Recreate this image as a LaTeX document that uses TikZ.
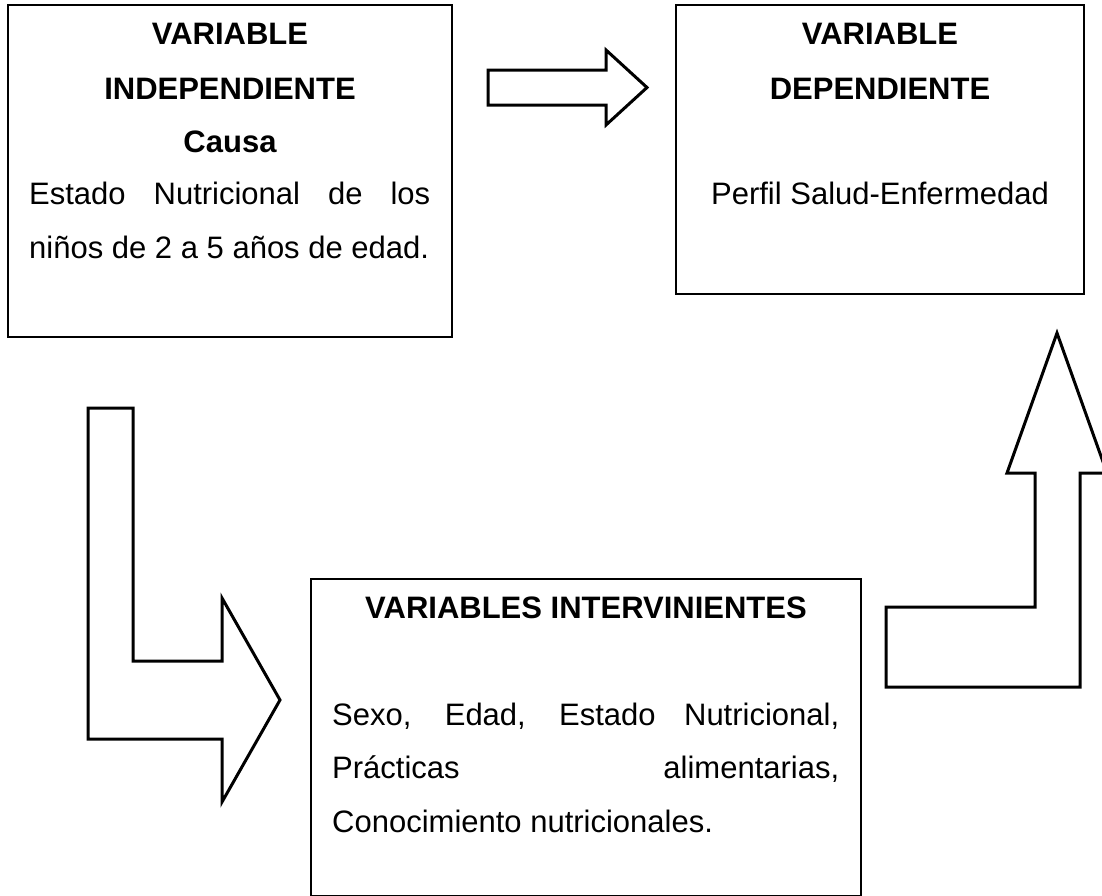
\documentclass[tikz,border=0pt]{standalone}
\usepackage{fontspec}
\setmainfont{Liberation Sans}
\begin{document}
\begin{tikzpicture}[x=1pt,y=-1pt,
  box/.style={draw=black, line width=2pt, inner sep=0pt},
  blockarrow/.style={draw=black, line width=3pt, fill=white, line join=miter},
  txt/.style={anchor=base, inner sep=0pt, font=\fontsize{31pt}{53pt}\selectfont},
  txtl/.style={anchor=base west, inner sep=0pt, font=\fontsize{31pt}{53pt}\selectfont}]
\useasboundingbox (0,0) rectangle (1102,895);
\fill[white] (0,0) rectangle (1102,895);

% boxes
\node[box, minimum width=444pt, minimum height=332pt] (b1) at (230,171) {};
\node[box, minimum width=408pt, minimum height=289pt] (b2) at (880,149.5) {};
\node[box, minimum width=550pt, minimum height=317pt] (b3) at (586,737.5) {};

% box 1 text
\node[txt] (t1a) at (230,44) {\bfseries VARIABLE};
\node[txt] (t1b) at (230,99) {\bfseries INDEPENDIENTE};
\node[txt] (t1c) at (230,152) {\bfseries Causa};
\node[txtl] (t1d) at (29,204) {\makebox[401pt][s]{Estado Nutricional de los}};
\node[txtl] (t1e) at (29,258) {niños de 2 a 5 años de edad.};

% box 2 text
\node[txt] (t2a) at (880,44) {\bfseries VARIABLE};
\node[txt] (t2b) at (880,99) {\bfseries DEPENDIENTE};
\node[txt] (t2c) at (880,204) {Perfil Salud-Enfermedad};

% box 3 text
\node[txt] (t3a) at (586,618) {\bfseries VARIABLES INTERVINIENTES};
\node[txtl] (t3b) at (332,725) {\makebox[507pt][s]{Sexo, Edad, Estado Nutricional,}};
\node[txtl] (t3c) at (332,778) {\makebox[507pt][s]{Prácticas alimentarias,}};
\node[txtl] (t3d) at (332,832) {Conocimiento nutricionales.};

% right arrow between box 1 and box 2
\draw[blockarrow] (488,70) -- (606,70) -- (606,50) -- (647,87.5) -- (606,125) -- (606,105) -- (488,105) -- cycle;

% L-shaped arrow from box 1 to box 3
\draw[blockarrow] (88,408) -- (133,408) -- (133,661) -- (222,661) -- (222,598) -- (280,700) -- (222,802) -- (222,739) -- (88,739) -- cycle;

% L-shaped up arrow from box 3 to box 2
\draw[blockarrow] (886,607) -- (1035,607) -- (1035,473) -- (1007,473) -- (1057,333) -- (1107,473) -- (1080,473) -- (1080,687) -- (886,687) -- cycle;
\end{tikzpicture}
\end{document}
